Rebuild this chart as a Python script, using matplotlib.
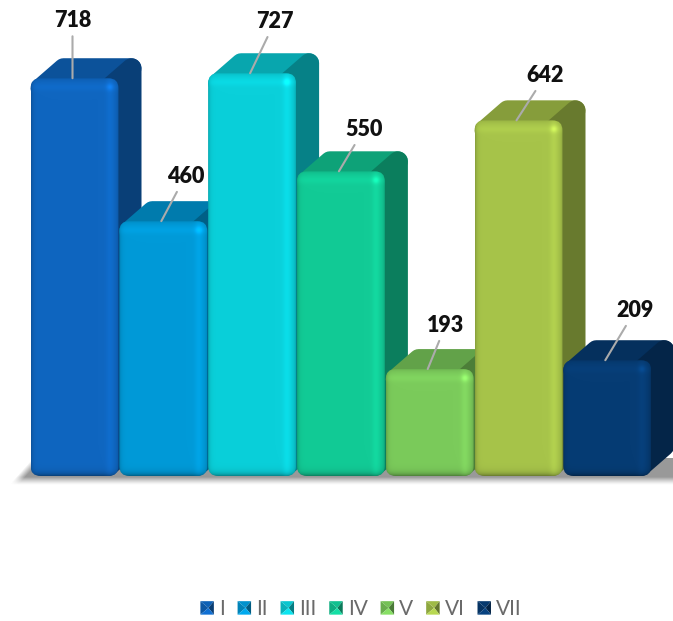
import matplotlib
matplotlib.use("Agg")
import matplotlib.pyplot as plt
import numpy as np
from matplotlib.colors import to_rgb
from matplotlib.legend_handler import HandlerBase
from matplotlib.patches import FancyBboxPatch, Patch, Polygon

categories = ["I", "II", "III", "IV", "V", "VI", "VII"]
values = [718, 460, 727, 550, 193, 642, 209]
colors = ["#0F66C0", "#009AD8", "#0AD0DA", "#12CB96", "#7BCB5B", "#A7C44A", "#063C74"]

# label offsets from the top of each bar, in pixels
label_dx = [0, 24, 25, 25, 18, 29, 30]
label_dy = [58, 45, 52, 42, 44, 45, 50]

# scales of the picture
px_per_cat = 88.8
px_per_val = 0.554
bar_w = 88 / px_per_cat
depth_x = 23 / px_per_cat
depth_y = 20 / px_per_val
radius = 10


def shade(color, w, h):
    """Front face of a bar, bevelled towards the edges."""
    xx, yy = np.meshgrid(np.arange(w) + 0.5, np.arange(h) + 0.5)
    f = np.ones((h, w))
    f += 0.07 * np.exp(-((w - xx - 9) / 4.0) ** 2)
    f += 0.05 * np.exp(-((yy - 9) / 4.0) ** 2)
    f += 0.16 * np.exp(-(((w - xx - 9) / 3.5) ** 2 + ((yy - 9) / 3.5) ** 2))
    f -= 0.40 * np.exp(-(h - yy) / 3.0)
    f -= 0.22 * np.exp(-xx / 2.0)
    f -= 0.20 * np.exp(-(w - xx) / 2.0)
    f -= 0.12 * np.exp(-yy / 2.0)
    rgb = np.clip(np.array(to_rgb(color))[None, None, :] * f[:, :, None], 0, 1)
    return rgb


def rounded_face(ax, pts, color, z):
    # round line joins give the soft corners of the side and top faces
    ax.add_patch(Polygon(pts, closed=True, facecolor=color, edgecolor=color,
                         lw=radius * 1.44, joinstyle="round", zorder=z))


def draw_bar(ax, i, value, color, z):
    c = np.array(to_rgb(color))
    left = i - bar_w / 2
    right = i + bar_w / 2
    ix = radius / px_per_cat
    iy = radius / px_per_val

    # top and side faces, inset so the round joins reach the outline
    rounded_face(ax, [(left + ix, value - iy), (left + depth_x + ix, value + depth_y - iy),
                      (right + depth_x - ix, value + depth_y - iy), (right - ix, value - iy)],
                 c * 0.80, z)
    rounded_face(ax, [(right - ix, value - iy), (right + depth_x - ix, value + depth_y - iy),
                      (right + depth_x - ix, iy + depth_y), (right - ix, iy)],
                 c * 0.62, z)

    # front face
    clip = FancyBboxPatch((left, 0), bar_w, value,
                          boxstyle=f"round,pad=0,rounding_size={radius / px_per_cat}",
                          mutation_aspect=px_per_cat / px_per_val,
                          transform=ax.transData, facecolor="none", edgecolor="none", zorder=z)
    ax.add_patch(clip)
    w = int(round(bar_w * px_per_cat))
    h = max(int(round(value * px_per_val)), 1)
    im = ax.imshow(shade(color, w, h), extent=(left, right, 0, value), origin="upper",
                   aspect="auto", interpolation="bilinear", zorder=z + 0.1)
    im.set_clip_path(clip)


def draw_floor(ax, n):
    # soft grey shadow of the chart floor
    x0 = -0.5 - 19 / px_per_cat
    x1 = n - 0.5 + depth_x + 2 / px_per_cat
    y0 = -9 / px_per_val
    y1 = 18 / px_per_val
    w, h = int((x1 - x0) * px_per_cat), 27
    xx, yy = np.meshgrid(np.arange(w) + 0.5, np.arange(h) + 0.5)
    left_ramp = np.clip((xx - (h - yy) * 0.9 + 2) / 9.0, 0, 1)
    bottom_ramp = np.clip((h - yy) / 8.0, 0, 1) ** 1.3
    img = np.zeros((h, w, 4))
    img[..., :3] = 0.36
    img[..., 3] = 0.62 * left_ramp * bottom_ramp
    ax.imshow(img, extent=(x0, x1, y0, y1), origin="upper", aspect="auto",
              interpolation="bilinear", zorder=1)


class PyramidHandler(HandlerBase):
    """Small bevelled square used as the legend key."""

    def create_artists(self, legend, orig, xd, yd, width, height, fontsize, trans):
        c = np.array(to_rgb(orig.get_facecolor()))
        s = 9.7
        x0 = xd * -1 + (width - s) / 2
        y0 = yd * -1 + (height - s) / 2
        x1, y1 = x0 + s, y0 + s
        xm, ym = x0 + s * 0.6, y0 + s * 0.5
        faces = [([(x0, y0), (x0, y1), (xm, ym)], c * 0.85),
                 ([(x0, y1), (x1, y1), (xm, ym)], c * 0.95),
                 ([(x1, y1), (x1, y0), (xm, ym)], c * 0.6),
                 ([(x0, y0), (x1, y0), (xm, ym)], np.clip(c * 1.1, 0, 1))]
        return [Polygon(p, closed=True, facecolor=col, edgecolor="none", transform=trans)
                for p, col in faces]


plt.rcParams["font.family"] = ["Lato", "DejaVu Sans"]

fig = plt.figure(figsize=(6.73, 6.21), dpi=100)
ax = fig.add_axes([0, 0, 1, 1])
ax.axis("off")

draw_floor(ax, len(values))
for i, (v, col) in enumerate(zip(values, colors)):
    draw_bar(ax, i, v, col, 2 + i)

for i, v in enumerate(values):
    ax.annotate(str(v), xy=(i - 2 / px_per_cat, v), xycoords="data",
                xytext=(label_dx[i] * 0.72, label_dy[i] * 0.72), textcoords="offset points",
                ha="center", va="center", fontsize=15.5, fontweight="heavy", color="#111111",
                arrowprops=dict(arrowstyle="-", color="#ABABAB", lw=1.5, shrinkA=2, shrinkB=0),
                zorder=20, annotation_clip=False)

ax.set_xlim(-74.5 / px_per_cat, (673 - 74.5) / px_per_cat)
ax.set_ylim(-(621 - 476) / px_per_val, 476 / px_per_val)

handles = [Patch(facecolor=c) for c in colors]
ax.legend(handles, categories, handler_map={Patch: PyramidHandler()}, ncol=len(categories),
          loc="center", bbox_to_anchor=(0.5364, 0.019), frameon=False, fontsize=15,
          labelcolor="#6A6A6A", handlelength=0.65, handletextpad=0.24, columnspacing=0.62,
          borderpad=0, borderaxespad=0)

plt.savefig("out.png", dpi=100)
